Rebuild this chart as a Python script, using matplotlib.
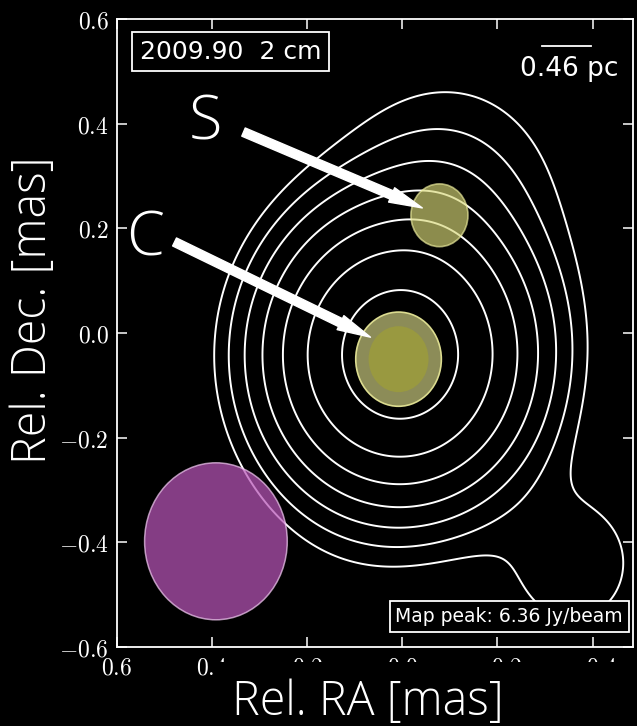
import numpy as np
import matplotlib
matplotlib.use("Agg")
import matplotlib.pyplot as plt
from matplotlib.patches import Ellipse, Rectangle

plt.rcParams['mathtext.fontset'] = 'cm'

# ---- map data ----
map_peak = 6.36  # Jy/beam
# gaussian brightness components (x, y in mas, relative amplitude, sigma in mas)
field_x = [0.005, -0.078, -0.10, -0.36, 0.12]
field_y = [-0.042, 0.225, 0.26, -0.44, -0.40]
field_amp = [1.0, 0.02, 0.018, 0.014, 0.0035]
field_sigma = [0.1285, 0.09, 0.17, 0.127, 0.17]
# contour levels, Jy/beam (1% of peak, x2)
contour_levels = [0.0636, 0.127, 0.254, 0.509, 1.02, 2.04, 4.07]

# model-fit components shown as circles
comp_names = ['C', 'S']
comp_x = [0.008, -0.078]
comp_y = [-0.050, 0.225]
comp_size = [0.18, 0.12]      # mas
core_inner_size = 0.126

# restoring beam
beam_x, beam_y = 0.392, -0.398
beam_size = 0.30

# label / arrow positions (data coords)
label_xy = {'S': (0.414, 0.400), 'C': (0.540, 0.178)}
arrow_start = {'S': (0.334, 0.384), 'C': (0.479, 0.174)}
arrow_end = {'S': (-0.042, 0.239), 'C': (0.067, -0.008)}

scale_bar_x = [-0.294, -0.397]
scale_bar_y = 0.549

xticks = [0.6, 0.4, 0.2, 0.0, -0.2, -0.4]
yticks = [-0.6, -0.4, -0.2, 0.0, 0.2, 0.4, 0.6]

# ---- figure ----
fig = plt.figure(figsize=(6.37, 7.26), dpi=100, facecolor='black')
ax = fig.add_axes([0.1837, 0.1088, 0.810, 0.865])
ax.set_facecolor('black')

gx = np.linspace(-0.7, 0.7, 500)
gy = np.linspace(-0.8, 0.7, 500)
X, Y = np.meshgrid(gx, gy)
F = np.zeros_like(X)
for cx, cy, a, s in zip(field_x, field_y, field_amp, field_sigma):
    F += a * np.exp(-((X - cx) ** 2 + (Y - cy) ** 2) / (2 * s ** 2))
F *= map_peak

ax.contour(X, Y, F, levels=contour_levels, colors='white', linewidths=1.4, zorder=2)

# beam
ax.add_patch(Ellipse((beam_x, beam_y), beam_size, beam_size, facecolor='#b855b8',
                     edgecolor='#f0c8f0', lw=1.1, alpha=0.72, zorder=3))
# components
ax.add_patch(Ellipse((comp_x[0], comp_y[0]), comp_size[0], comp_size[0],
                     facecolor='#8c8c58', edgecolor='#dcdc90', lw=1.2, zorder=3))
ax.add_patch(Ellipse((comp_x[0], comp_y[0]), core_inner_size, core_inner_size,
                     facecolor='#999940', edgecolor='none', zorder=3))
ax.add_patch(Ellipse((comp_x[1], comp_y[1]), comp_size[1], comp_size[1],
                     facecolor='#d8d878', edgecolor='#f0f0a0', lw=1.2, alpha=0.65, zorder=3))

label_font = dict(family='Open Sans', fontweight='light')
for name in comp_names:
    ax.annotate('', xy=arrow_end[name], xytext=arrow_start[name],
                arrowprops=dict(arrowstyle='simple,tail_width=0.4,head_width=0.7,head_length=1.5',
                                color='white', mutation_scale=16, shrinkA=0, shrinkB=0),
                zorder=4)
    ax.text(*label_xy[name], name, color='white', fontsize=44,
            ha='center', va='center', zorder=5, **label_font)

ax.text(0.22, 0.948, '2009.90  2 cm', transform=ax.transAxes, color='white',
        fontsize=18, ha='center', va='center', zorder=6,
        bbox=dict(boxstyle='square,pad=0.3', facecolor='black', edgecolor='white', lw=1.3))
ax.text(0.76, 0.0486, 'Map peak: 6.36 Jy/beam', transform=ax.transAxes, color='white',
        fontsize=13.5, ha='center', va='center', zorder=6,
        bbox=dict(boxstyle='square,pad=0.3', facecolor='black', edgecolor='white', lw=1.3))
ax.plot(scale_bar_x, [scale_bar_y, scale_bar_y], color='white', lw=1.3, zorder=6)
ax.text(0.876, 0.920, '0.46 pc', transform=ax.transAxes, color='white',
        fontsize=19, ha='center', va='center', zorder=6)

ax.set_xlim(0.6, -0.485)
ax.set_ylim(-0.6, 0.6)
ax.set_xticks(xticks)
ax.set_xticklabels(['$%.1f$' % v if v != 0 else '$0.0$' for v in xticks])
ax.set_yticks(yticks)
ax.set_yticklabels(['$%.1f$' % v if v != 0 else '$0.0$' for v in yticks])
ax.tick_params(direction='in', length=7, width=1.1, colors='white', labelsize=17,
               top=True, right=True, pad=6)
for sp in ax.spines.values():
    sp.set_color('white')
    sp.set_linewidth(1.3)

# caption overlay (covers the lower tick labels like in the video frame)
fig.patches.append(Rectangle((215 / 637, 0), 1 - 215 / 637, (726 - 662) / 726,
                             transform=fig.transFigure, facecolor='black',
                             edgecolor='none', zorder=10))
fig.text(368 / 637, 1 - 703 / 726, 'Rel. RA [mas]', color='white', fontsize=33.5,
         ha='center', va='center', zorder=11, **label_font)
fig.text(34 / 637, 1 - 310 / 726, 'Rel. Dec. [mas]', color='white', fontsize=33.5,
         ha='center', va='center', rotation=90, zorder=11, **label_font)

fig.savefig('out.png', dpi=100, facecolor='black')
